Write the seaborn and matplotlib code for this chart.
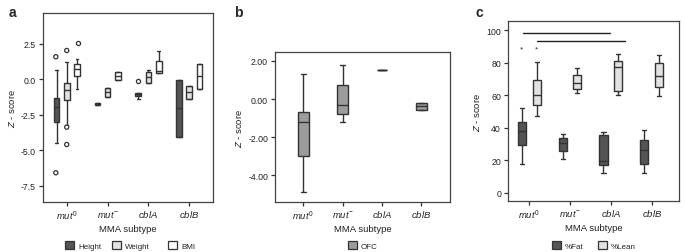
import numpy as np
import pandas as pd
import matplotlib
matplotlib.use('Agg')
import matplotlib.pyplot as plt
from matplotlib.patches import Patch
import seaborn as sns

# ============= data (five-number summaries: low whisker, Q1, median, Q3, high whisker) =============
subtypes = ['mut0', 'mut-', 'cblA', 'cblB']
subtype_labels = [r'$mut^{0}$', r'$mut^{-}$', r'$cblA$', r'$cblB$']

a_height = [[-4.5, -3.0, -1.92, -1.32, 0.70],
            [-1.80, -1.79, -1.74, -1.69, -1.68],
            [-1.36, -1.15, -1.0, -0.94, -0.94],
            [-4.06, -4.06, -2.04, -0.05, -0.05]]
a_weight = [[-3.2, -1.48, -0.75, -0.23, 1.25],
            [-1.22, -1.22, -0.89, -0.59, -0.59],
            [-0.26, -0.23, 0.16, 0.54, 0.70],
            [-1.41, -1.41, -0.89, -0.47, -0.47]]
a_bmi = [[-0.65, 0.23, 0.75, 1.10, 1.46],
         [-0.05, -0.05, 0.23, 0.51, 0.51],
         [0.47, 0.47, 0.63, 1.27, 2.0],
         [-0.66, -0.66, 0.23, 1.06, 1.06]]
# outliers: (subtype, measure, value)
a_outliers = [('mut0', 'Height', 1.6), ('mut0', 'Height', -6.57),
              ('mut0', 'Weight', 2.04), ('mut0', 'Weight', -3.36), ('mut0', 'Weight', -4.58),
              ('mut0', 'BMI', 2.58), ('cblA', 'Height', -0.14)]

b_ofc = [[-4.85, -2.98, -1.21, -0.70, 1.33],
         [-1.22, -0.77, -0.31, 0.72, 1.80],
         [1.54, 1.54, 1.54, 1.54, 1.54],
         [-0.56, -0.56, -0.38, -0.21, -0.21]]

c_fat = [[17.8, 29.4, 38.2, 43.8, 52.1],
         [20.9, 25.4, 30.7, 33.7, 36.2],
         [12.3, 16.8, 19.4, 35.6, 37.6],
         [12.3, 17.8, 26.4, 32.7, 38.8]]
c_lean = [[47.0, 54.0, 60.0, 69.3, 80.6],
          [61.3, 63.8, 67.5, 72.6, 76.7],
          [60.3, 62.8, 77.5, 80.8, 85.3],
          [59.3, 65.2, 71.6, 79.8, 84.7]]
c_stars_y = 88.8
c_bars = [(-0.16, 1.98, 98.4), (0.20, 2.35, 93.7)]


def to_long(series):
    rows = []
    for name, groups in series.items():
        for st, vals in zip(subtypes, groups):
            for v in vals:
                rows.append((st, name, v))
    return pd.DataFrame(rows, columns=['subtype', 'measure', 'value'])


sns.set_theme(style='ticks')
plt.rcParams['font.family'] = ['Liberation Sans', 'DejaVu Sans']
plt.rcParams['axes.unicode_minus'] = False
plt.rcParams['mathtext.fontset'] = 'custom'
plt.rcParams['mathtext.it'] = 'Liberation Sans:italic'
plt.rcParams['mathtext.rm'] = 'Liberation Sans'

edge = '#333333'
dark, light, white, mid = '#545454', '#e2e2e2', '#ffffff', '#9c9c9c'

fig = plt.figure(figsize=(6.85, 2.53), dpi=100)
ax_a = fig.add_axes([0.0628, 0.1976, 0.2482, 0.7471])
ax_b = fig.add_axes([0.4015, 0.1976, 0.2555, 0.5929])
ax_c = fig.add_axes([0.7416, 0.2016, 0.2496, 0.7114])

box_kw = dict(whis=np.inf, linecolor=edge, linewidth=1.0, showfliers=False)

# ---- panel a
df_a = to_long({'Height': a_height, 'Weight': a_weight, 'BMI': a_bmi})
pal_a = {'Height': dark, 'Weight': light, 'BMI': white}
sns.boxplot(data=df_a, x='subtype', y='value', hue='measure', order=subtypes,
            hue_order=['Height', 'Weight', 'BMI'], palette=pal_a, width=0.75,
            gap=0.44, legend=False, ax=ax_a, **box_kw)
df_ao = pd.DataFrame(a_outliers, columns=['subtype', 'measure', 'value'])
sns.stripplot(data=df_ao, x='subtype', y='value', hue='measure', order=subtypes,
              hue_order=['Height', 'Weight', 'BMI'], dodge=True, jitter=False,
              palette={'Height': 'white', 'Weight': 'white', 'BMI': 'white'},
              edgecolor=edge, linewidth=0.9, size=3, legend=False, ax=ax_a)
ax_a.set_ylim(-8.63, 4.68)
ax_a.set_xlim(-0.58, 3.58)
ax_a.set_yticks([2.5, 0.0, -2.5, -5.0, -7.5])
ax_a.set_yticklabels(['2.5', '0.0', '-2.5', '-5.0', '-7.5'])

# ---- panel b
df_b = to_long({'OFC': b_ofc})
sns.boxplot(data=df_b, x='subtype', y='value', order=subtypes, color=mid,
            width=0.27, ax=ax_b, **box_kw)
ax_b.set_ylim(-5.4, 2.47)
ax_b.set_xlim(-0.72, 3.73)
ax_b.set_yticks([2, 0, -2, -4])
ax_b.set_yticklabels(['2.00', '0.00', '-2.00', '-4.00'])

# ---- panel c
df_c = to_long({'%Fat': c_fat, '%Lean': c_lean})
sns.boxplot(data=df_c, x='subtype', y='value', hue='measure', order=subtypes,
            hue_order=['%Fat', '%Lean'], palette={'%Fat': dark, '%Lean': light},
            width=0.72, gap=0.45, legend=False, ax=ax_c, **box_kw)
for x0, x1, y in c_bars:
    ax_c.plot([x0, x1], [y, y], color='#222222', lw=1.0)
for xs in (-0.18, 0.18):
    ax_c.text(xs, c_stars_y, '*', ha='center', va='center', fontsize=6, color='#333333')
ax_c.set_ylim(-5.1, 105.7)
ax_c.set_xlim(-0.52, 3.67)
ax_c.set_yticks([0, 20, 40, 60, 80, 100])

for ax in (ax_a, ax_b, ax_c):
    ax.set_xticks(range(4))
    ax.set_xticklabels(subtype_labels)
    ax.tick_params(axis='both', colors='#333333', labelcolor='#222222', labelsize=6.3,
                   length=3, width=0.9, pad=2)
    ax.tick_params(axis='x', labelsize=6.8, pad=1.5)
    for s in ax.spines.values():
        s.set_color('#444444')
        s.set_linewidth(0.9)
        s.set_visible(True)
    ax.set_xlabel('MMA subtype', fontsize=6.8, labelpad=1.5, color='#222222')
    ax.set_ylabel(r'$Z$ - score', fontsize=6.8, labelpad=3, color='#222222')

# ---- legends (one entry each, placed at the patch's left edge)
legend_items = [('Height', dark, 65), ('Weight', light, 112), ('BMI', white, 168),
                ('OFC', mid, 348), ('%Fat', dark, 552), ('%Lean', light, 598)]
for label, color, px in legend_items:
    fig.legend([Patch(facecolor=color, edgecolor=edge, linewidth=0.9)], [label],
               loc='center left', bbox_to_anchor=(px / 685, 0.026), frameon=False,
               fontsize=5.8, handlelength=1.1, handleheight=1.1, handletextpad=0.5,
               borderpad=0, borderaxespad=0)

for lbl, x in (('a', 0.012), ('b', 0.341), ('c', 0.694)):
    fig.text(x, 0.975, lbl, fontsize=10, fontweight='bold', ha='left', va='top')

fig.savefig('out.png', dpi=100)
